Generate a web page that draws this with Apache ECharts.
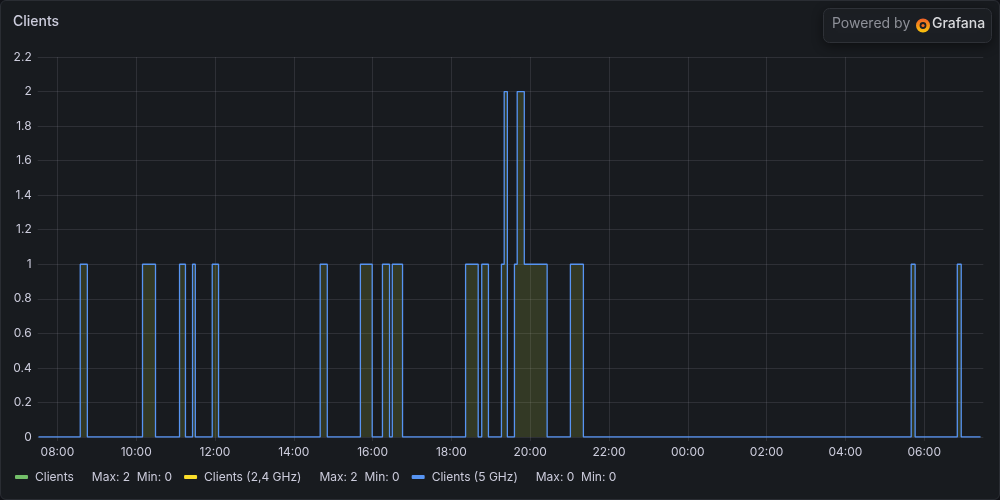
<!DOCTYPE html>
<html>
<head>
<meta charset="utf-8">
<script src="https://cdn.jsdelivr.net/npm/echarts@6/dist/echarts.min.js"></script>
<style>
  html, body { margin: 0; padding: 0; background: #111217; }
  #panel { position: absolute; left: 0; top: 0; width: 998px; height: 498px; background: #181b1f; border: 1px solid #2a2d33; border-radius: 6px; overflow: hidden; }
  #chart { position: absolute; left: -1px; top: -1px; width: 1000px; height: 500px; }
</style>
</head>
<body>
<div id="panel"><div id="chart"></div></div>
<script>
// Time of each change (hours since start of first day; >24 = next day)
const times = [7.52, 8.58, 8.76, 10.16, 10.49, 11.10, 11.25, 11.43, 11.50, 11.93, 12.09,
  14.67, 14.85, 15.69, 15.99, 16.25, 16.43, 16.50, 16.76, 18.36, 18.68, 18.77, 18.94,
  19.27, 19.34, 19.42, 19.60, 19.67, 19.85, 20.43, 21.02, 21.35, 29.67, 29.77, 30.84, 30.94, 31.43];
// Value held from each change time onward
const clients   = [0,1,0,1,0,1,0,1,0,1,0,1,0,1,0,1,0,1,0,1,0,1,0,1,2,0,1,2,1,0,1,0,1,0,1,0,0];
const clients24 = [0,1,0,1,0,1,0,1,0,1,0,1,0,1,0,1,0,1,0,1,0,1,0,1,2,0,1,2,1,0,1,0,1,0,1,0,0];
const clients5  = [0,1,0,1,0,1,0,1,0,1,0,1,0,1,0,1,0,1,0,1,0,1,0,1,2,0,1,2,1,0,1,0,1,0,1,0,0];
const xTicks = [8, 10, 12, 14, 16, 18, 20, 22, 24, 26, 28, 30];
const seriesNames = ['Clients', 'Clients (2,4 GHz)', 'Clients (5 GHz)'];
const seriesStats = ['Max: 2  Min: 0', 'Max: 2  Min: 0', 'Max: 0  Min: 0'];

const pair = vals => times.map((t, i) => [t, vals[i]]);
const pad = n => (n < 10 ? '0' : '') + n;
const FONT = 'Inter';
const TXT = '#ccccdc';
const GRID = 'rgba(204,204,220,0.12)';

const chart = echarts.init(document.getElementById('chart'), null, { renderer: 'canvas' });
chart.setOption({
  backgroundColor: 'transparent',
  animation: false,
  textStyle: { fontFamily: FONT },
  title: {
    text: 'Clients', left: 8, top: 10,
    textStyle: { color: '#ccccdc', fontSize: 14, fontWeight: 500, fontFamily: FONT }
  },
  grid: { left: 37.7, right: 16.7, top: 57, bottom: 63, containLabel: false },
  xAxis: {
    type: 'value', min: 7.5, max: 31.5,
    axisLine: { show: false },
    axisTick: { show: true, length: 4, customValues: xTicks, lineStyle: { color: GRID } },
    splitLine: { show: true, lineStyle: { color: GRID, width: 1 } },
    axisLabel: {
      customValues: xTicks, color: TXT, fontSize: 12, fontFamily: FONT, margin: 9,
      formatter: v => pad(Math.round(v) % 24) + ':00'
    }
  },
  yAxis: {
    type: 'value', min: 0, max: 2.2, interval: 0.2,
    axisLine: { show: false }, axisTick: { show: false },
    splitLine: { lineStyle: { color: GRID, width: 1 } },
    axisLabel: {
      color: TXT, fontSize: 12, fontFamily: FONT, margin: 6,
      formatter: v => String(Math.round(v * 10) / 10)
    }
  },
  legend: {
    left: 10, top: 466, itemWidth: 13, itemHeight: 4, itemGap: 12,
    icon: 'roundRect',
    data: seriesNames,
    formatter: name => {
      const i = seriesNames.indexOf(name);
      return '{n|' + name + '}{s|' + seriesStats[i] + '}';
    },
    textStyle: {
      color: TXT, fontSize: 12, fontFamily: FONT, padding: [0, 0, 0, 2],
      rich: {
        n: { color: TXT, fontSize: 12, fontFamily: FONT },
        s: { color: TXT, fontSize: 12, fontFamily: FONT, padding: [0, 0, 0, 18] }
      }
    },
    selectedMode: false
  },
  series: [
    {
      name: seriesNames[0], type: 'line', step: 'end', data: pair(clients), showSymbol: false,
      color: '#73BF69', lineStyle: { width: 0, color: '#73BF69' },
      areaStyle: { color: 'rgba(115,191,105,0.13)' }
    },
    {
      name: seriesNames[1], type: 'line', step: 'end', data: pair(clients24), showSymbol: false,
      color: '#FADE2A', lineStyle: { width: 0, color: '#FADE2A' },
      areaStyle: { color: 'rgba(250,222,42,0.13)' }
    },
    {
      name: seriesNames[2], type: 'line', step: 'end', data: pair(clients5), showSymbol: false,
      color: '#5794F2', lineStyle: { width: 1.3, color: '#5794F2' }
    }
  ],
  graphic: [
    {
      type: 'rect', left: 823, top: 8, z: 100,
      shape: { width: 168, height: 34, r: 6 },
      style: { fill: '#1c1f24', stroke: '#2e3137', lineWidth: 1, shadowBlur: 12, shadowColor: 'rgba(0,0,0,0.45)', shadowOffsetY: 3 }
    },
    {
      type: 'text', left: 832, top: 17, z: 101,
      style: { text: 'Powered by', fill: '#8e9098', fontSize: 14, fontFamily: FONT }
    },
    {
      type: 'circle', z: 101, shape: { cx: 923, cy: 25.5, r: 5.2 },
      style: { fill: 'none', stroke: new echarts.graphic.LinearGradient(0, 0, 0, 1, [{ offset: 0, color: '#f05a28' }, { offset: 1, color: '#fbca0a' }]), lineWidth: 3.6 }
    },
    {
      type: 'circle', z: 101, shape: { cx: 923, cy: 25.5, r: 1.6 },
      style: { fill: '#f46b1f' }
    },
    {
      type: 'text', left: 932, top: 17, z: 101,
      style: { text: 'Grafana', fill: '#d8d9dc', fontSize: 14, fontWeight: 500, fontFamily: FONT }
    }
  ]
});
</script>
</body>
</html>
